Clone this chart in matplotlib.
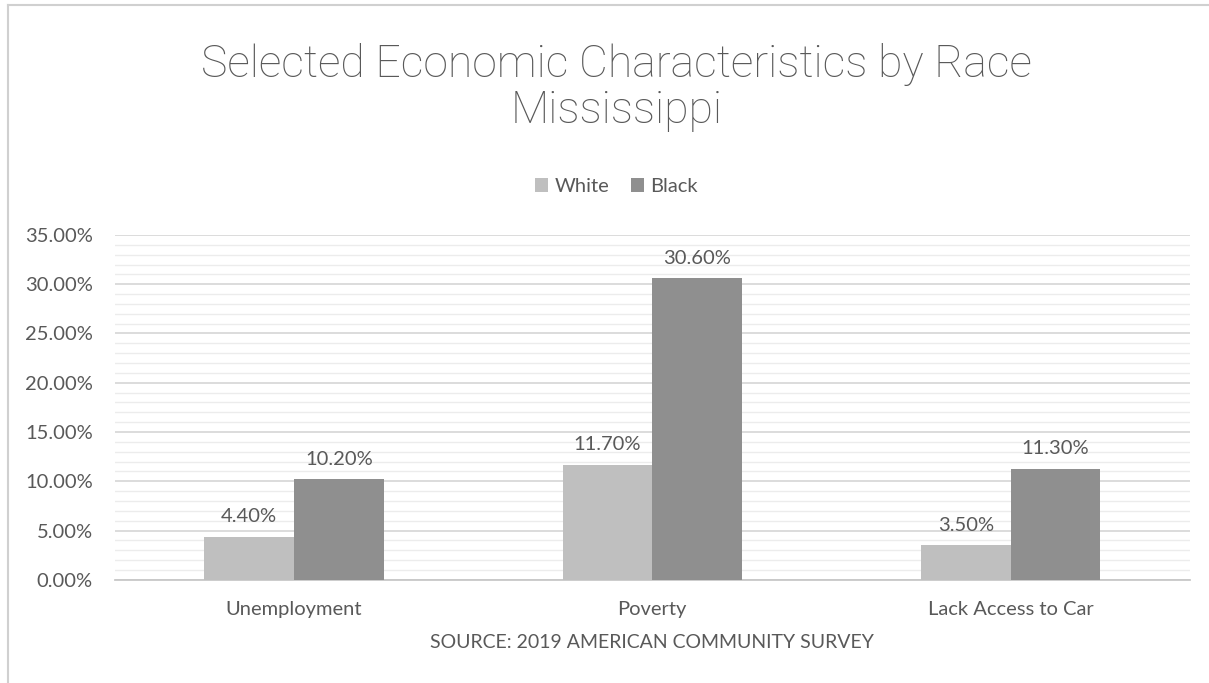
import numpy as np
import matplotlib.pyplot as plt
from matplotlib.lines import Line2D
from matplotlib.ticker import MultipleLocator, FuncFormatter

# data
categories = ['Unemployment', 'Poverty', 'Lack Access to Car']
white = [4.40, 11.70, 3.50]
black = [10.20, 30.60, 11.30]
series_names = ['White', 'Black']

plt.rcParams['font.family'] = ['Lato', 'DejaVu Sans']
txt = '#595959'
grid_c = '#d9d9d9'
fs = 14.5

fig = plt.figure(figsize=(12.09, 6.83), dpi=100)
ax = fig.add_axes([0.095, 0.151, 0.889, 0.505])

x = np.arange(len(categories))
w = 0.25
b1 = ax.bar(x - w / 2, white, w, color='#bfbfbf', label=series_names[0], zorder=3)
b2 = ax.bar(x + w / 2, black, w, color='#8f8f8f', label=series_names[1], zorder=3)

for bars in (b1, b2):
    for r in bars:
        ax.annotate(f'{r.get_height():.2f}%', (r.get_x() + r.get_width() / 2, r.get_height()),
                    xytext=(0, 8), textcoords='offset points', ha='center', va='bottom',
                    fontsize=fs, color=txt)

ax.set_xlim(-0.5, 2.5)
ax.set_ylim(0, 35)
ax.yaxis.set_major_locator(MultipleLocator(5))
ax.yaxis.set_minor_locator(MultipleLocator(1))
ax.yaxis.set_major_formatter(FuncFormatter(lambda v, p: f'{v:.2f}%'))
ax.grid(axis='y', which='major', color=grid_c, lw=1.3, zorder=0)
ax.grid(axis='y', which='minor', color='#ececec', lw=1.0, zorder=0)
ax.set_xticks(x)
ax.set_xticklabels(categories)
ax.tick_params(axis='both', which='both', length=0, labelsize=fs, labelcolor=txt)
ax.tick_params(axis='y', pad=16)
ax.tick_params(axis='x', pad=15)
for s in ['top', 'right', 'left']:
    ax.spines[s].set_visible(False)
ax.spines['bottom'].set_color('#c8c8c8')
ax.spines['bottom'].set_linewidth(1.3)

ax.set_xlabel('SOURCE: 2019 AMERICAN COMMUNITY SURVEY', fontsize=14, color=txt, labelpad=12)

# title in a light weight, like the original
fig.text(0.51, 0.872, 'Selected Economic Characteristics by Race\nMississippi',
         ha='center', va='center', fontsize=32, color='#595959',
         family=['Roboto', 'Lato', 'DejaVu Sans'], fontweight='light',
         linespacing=1.08)

leg = fig.legend(loc='center', bbox_to_anchor=(0.51, 0.727), ncol=2, frameon=False,
                 fontsize=fs, handlelength=0.65, handleheight=0.65, handletextpad=0.3,
                 columnspacing=1.1)
for t in leg.get_texts():
    t.set_color(txt)

# outer chart border (left and top edges visible)
fig.add_artist(Line2D([8 / 1209, 8 / 1209], [0, 1 - 5 / 683], transform=fig.transFigure,
                      color='#d0d0d0', lw=1.5))
fig.add_artist(Line2D([8 / 1209, 1], [1 - 5 / 683, 1 - 5 / 683], transform=fig.transFigure,
                      color='#d0d0d0', lw=1.5))

fig.savefig('out.png', dpi=100)
